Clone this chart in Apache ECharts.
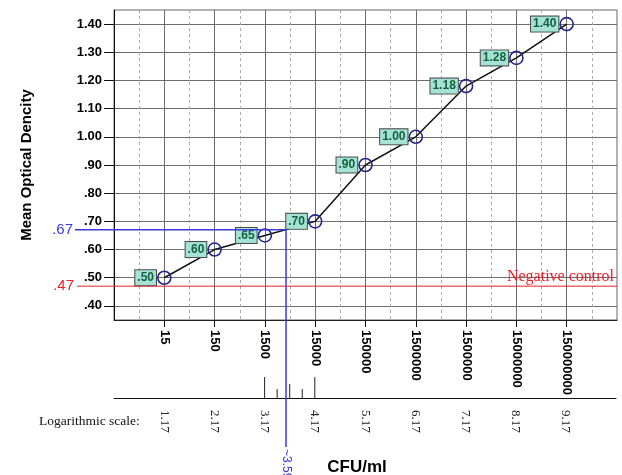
<!DOCTYPE html>
<html><head><meta charset="utf-8">
<script src="https://cdn.jsdelivr.net/npm/echarts@6/dist/echarts.min.js"></script>
<style>html,body{margin:0;padding:0;background:#fff}#c{width:622px;height:475px}</style>
</head><body><div id="c"></div>
<script>
// ---- data ----
const cfuLabels = ['15','150','1500','15000','150000','1500000','1500000','15000000','150000000'];
const logScale = [1.17, 2.17, 3.17, 4.17, 5.17, 6.17, 7.17, 8.17, 9.17];
const meanOD = [0.50, 0.60, 0.65, 0.70, 0.90, 1.00, 1.18, 1.28, 1.40];
const yTicks = [0.40, 0.50, 0.60, 0.70, 0.80, 0.90, 1.00, 1.10, 1.20, 1.30, 1.40];
const logMinorTicks = [3.17, 3.42, 3.67, 3.92, 4.17];
const logMinorHeights = [1, 0.43, 0.67, 0.43, 1];
const negControl = 0.47;
const sampleOD = 0.67;
const sampleLog = 3.59;

const chart = echarts.init(document.getElementById('c'), null, {renderer: 'canvas'});
const fmt = v => v.toFixed(2).replace(/^0/, '');
const idx = v => logScale.findIndex(x => Math.abs(x - v) < 1e-6);

const option = {
  animation: false,
  grid: [
    {left: 114, top: 10, width: 503, height: 310, show: true, borderColor: '#666', borderWidth: 1},
    {left: 114, top: 377, width: 502, height: 21}
  ],
  xAxis: [
    {type: 'value', gridIndex: 0, min: 0.17, max: 10.17, interval: 1,
     axisLine: {show: true, lineStyle: {color: '#222'}},
     axisTick: {show: true, customValues: logScale, length: 7, lineStyle: {color: '#111'}},
     axisLabel: {customValues: logScale, formatter: v => cfuLabels[idx(v)] || '', rotate: -90, margin: 10,
                 fontFamily: 'Arial', fontWeight: 'bold', fontSize: 13, color: '#000'},
     splitLine: {show: true, lineStyle: {color: '#6e6e6e', width: 1}},
     minorTick: {show: false, splitNumber: 2},
     minorSplitLine: {show: true, lineStyle: {color: '#aaa', type: [3, 3]}}},
    {type: 'value', gridIndex: 1, min: 0.17, max: 10.17, interval: 1,
     axisLine: {show: true, lineStyle: {color: '#111'}},
     axisTick: {show: false},
     axisLabel: {customValues: logScale, formatter: v => v.toFixed(2), rotate: -90, margin: 12,
                 fontFamily: 'Liberation Serif', fontSize: 13, color: '#222'},
     splitLine: {show: false}}
  ],
  yAxis: [
    {type: 'value', gridIndex: 0, min: 0.35, max: 1.45, interval: 0.1,
     axisLine: {show: true, lineStyle: {color: '#111'}},
     axisTick: {show: true, customValues: yTicks, length: 10, lineStyle: {color: '#111'}},
     axisLabel: {customValues: yTicks, formatter: fmt, margin: 12, fontFamily: 'Arial',
                 fontWeight: 'bold', fontSize: 13, color: '#000'},
     splitLine: {show: true, lineStyle: {color: '#aaa', type: [3, 3]}},
     minorTick: {show: false, splitNumber: 2},
     minorSplitLine: {show: true, lineStyle: {color: '#6e6e6e'}},
     name: 'Mean Optical Dencity', nameLocation: 'middle', nameRotate: 90, nameGap: 80,
     nameTextStyle: {fontFamily: 'Arial', fontWeight: 'bold', fontSize: 15, color: '#000'}},
    {type: 'value', gridIndex: 1, min: 0, max: 1, show: false}
  ],
  series: [
    {type: 'line', xAxisIndex: 0, yAxisIndex: 0, z: 5,
     data: logScale.map((x, i) => [x, meanOD[i]]),
     symbol: 'circle', symbolSize: 13,
     lineStyle: {color: '#111', width: 1.5},
     itemStyle: {color: 'rgba(0,0,0,0)', borderColor: '#26268a', borderWidth: 1.6},
     label: {show: true, position: 'left', distance: 1, formatter: p => fmt(p.value[1]),
             backgroundColor: '#a3e2d5', borderColor: '#4a4a4a', borderWidth: 1, padding: [2, 2, 1, 2],
             color: '#16603f', fontWeight: 'bold', fontSize: 12, fontFamily: 'Arial'}},
    {type: 'bar', xAxisIndex: 1, yAxisIndex: 1, barWidth: 1,
     data: logMinorTicks.map((x, i) => [x, logMinorHeights[i]]),
     itemStyle: {color: '#222'}}
  ]
};
chart.setOption(option);

const ps = chart.convertToPixel({gridIndex: 0}, [sampleLog, sampleOD]);
const pn = chart.convertToPixel({gridIndex: 0}, [10.17, negControl]);
const blue = '#3a3ae0', red = '#e8202a';
chart.setOption({
  graphic: [
    {type: 'line', z: 10, shape: {x1: 75, y1: ps[1], x2: ps[0], y2: ps[1]}, style: {stroke: blue, lineWidth: 1.5}},
    {type: 'line', z: 10, shape: {x1: ps[0], y1: ps[1], x2: ps[0], y2: 447}, style: {stroke: blue, lineWidth: 1.5}},
    {type: 'text', z: 10, x: 73, y: ps[1], style: {text: '.67', fill: blue, font: '15px Arial', textAlign: 'right', textVerticalAlign: 'middle'}},
    {type: 'text', z: 10, x: ps[0], y: 449, rotation: -Math.PI / 2, style: {text: '~3.59', fill: blue, font: '12px Arial', textAlign: 'left', textVerticalAlign: 'middle'}},
    {type: 'line', z: 10, shape: {x1: 77, y1: pn[1], x2: pn[0], y2: pn[1]}, style: {stroke: red, lineWidth: 1}},
    {type: 'text', z: 10, x: 74, y: pn[1], style: {text: '.47', fill: red, font: '15px Arial', textAlign: 'right', textVerticalAlign: 'middle'}},
    {type: 'text', z: 10, x: pn[0] - 3, y: pn[1] - 1, style: {text: 'Negative control', fill: red, font: '16px "Liberation Serif"', textAlign: 'right', textVerticalAlign: 'bottom'}},
    {type: 'text', x: 39, y: 421, style: {text: 'Logarithmic scale:', fill: '#111', font: '13.5px "Liberation Serif"', textAlign: 'left', textVerticalAlign: 'middle'}},
    {type: 'text', x: 357, y: 467, style: {text: 'CFU/ml', fill: '#000', font: 'bold 17px Arial', textAlign: 'center', textVerticalAlign: 'middle'}}
  ]
});
</script></body></html>
